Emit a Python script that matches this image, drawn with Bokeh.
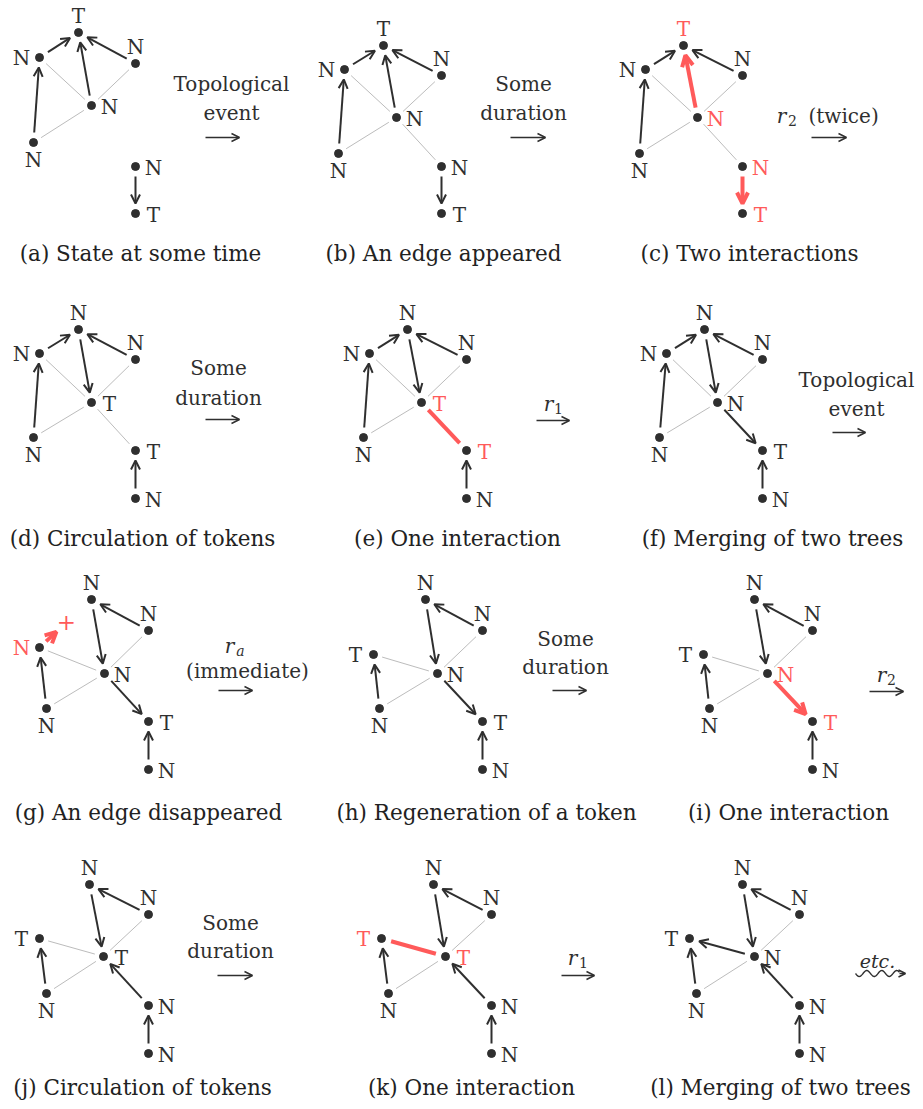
import math
from bokeh.plotting import figure
from bokeh.models import Range1d, Arrow, OpenHead, ColumnDataSource
from bokeh.embed import file_html
from bokeh.resources import INLINE
from bokeh.core.properties import value

# ------------------------------------------------------------------ data
# nodes: (key, x, y, label, label side)
NODES_A = [("T", 78, 32, "T", "above"), ("L", 39, 57, "N", "left"), ("R", 135, 63, "N", "above"),
           ("C", 91, 105, "N", "right"), ("B", 33, 142, "N", "below"), ("P", 135, 166, "N", "right"),
           ("Q", 135, 213, "T", "right")]
GRAY_A = [("L", "C"), ("R", "C"), ("B", "C")]
ARROWS_A = [("L", "T"), ("C", "T"), ("R", "T"), ("B", "L"), ("P", "Q")]

NODES_B = [("T", 383, 45, "T", "above"), ("L", 344, 69, "N", "left"), ("R", 441, 75, "N", "above"),
           ("C", 396, 117, "N", "right"), ("B", 338, 153, "N", "below"), ("P", 441, 166, "N", "right"),
           ("Q", 441, 213, "T", "right")]
GRAY_B = [("L", "C"), ("R", "C"), ("B", "C"), ("C", "P")]
ARROWS_B = [("L", "T"), ("C", "T"), ("R", "T"), ("B", "L"), ("P", "Q")]

NODES_C = [("T", 683, 45, "T", "above"), ("L", 645, 69, "N", "left"), ("R", 742, 75, "N", "above"),
           ("C", 697, 117, "N", "right"), ("B", 639, 153, "N", "below"), ("P", 742, 166, "N", "right"),
           ("Q", 742, 213, "T", "right")]
GRAY_C = [("L", "C"), ("R", "C"), ("B", "C"), ("C", "P")]
ARROWS_C = [("L", "T"), ("R", "T"), ("B", "L")]
RED_ARROWS_C = [("C", "T"), ("P", "Q")]
RED_LABELS_C = ["T", "C", "P", "Q"]

NODES_D = [("U", 78, 329, "N", "above"), ("L", 39, 353, "N", "left"), ("R", 135, 359, "N", "above"),
           ("C", 91, 402, "T", "right"), ("B", 33, 437, "N", "below"), ("P", 135, 450, "T", "right"),
           ("Q", 135, 498, "N", "right")]
GRAY_D = [("L", "C"), ("R", "C"), ("B", "C"), ("C", "P")]
ARROWS_D = [("L", "U"), ("R", "U"), ("U", "C"), ("B", "L"), ("Q", "P")]

NODES_E = [("U", 407, 329, "N", "above"), ("L", 369, 353, "N", "left"), ("R", 466, 359, "N", "above"),
           ("C", 421, 402, "T", "right"), ("B", 363, 437, "N", "below"), ("P", 466, 450, "T", "right"),
           ("Q", 466, 498, "N", "right")]
GRAY_E = [("L", "C"), ("R", "C"), ("B", "C")]
ARROWS_E = [("L", "U"), ("R", "U"), ("U", "C"), ("B", "L"), ("Q", "P")]
RED_LINES_E = [("C", "P")]
RED_LABELS_E = ["C", "P"]

NODES_F = [("U", 704, 329, "N", "above"), ("L", 666, 353, "N", "left"), ("R", 762, 359, "N", "above"),
           ("C", 717, 402, "N", "right"), ("B", 659, 437, "N", "below"), ("P", 762, 450, "T", "right"),
           ("Q", 762, 498, "N", "right")]
GRAY_F = [("L", "C"), ("R", "C"), ("B", "C")]
ARROWS_F = [("L", "U"), ("R", "U"), ("U", "C"), ("B", "L"), ("C", "P"), ("Q", "P")]

NODES_G = [("U", 91, 599, "N", "above"), ("R", 148, 630, "N", "above"), ("L", 39, 647, "N", "left"),
           ("C", 104, 673, "N", "right"), ("B", 46, 708, "N", "below"), ("P", 148, 721, "T", "right"),
           ("Q", 148, 769, "N", "right")]
GRAY_G = [("L", "C"), ("R", "C"), ("B", "C")]
ARROWS_G = [("R", "U"), ("U", "C"), ("C", "P"), ("B", "L"), ("Q", "P")]
RED_STUB_G = [("L", "U")]
RED_LABELS_G = ["L"]

NODES_H = [("U", 425, 599, "N", "above"), ("R", 482, 630, "N", "above"), ("L", 373, 654, "T", "left"),
           ("C", 437, 673, "N", "right"), ("B", 379, 708, "N", "below"), ("P", 482, 721, "T", "right"),
           ("Q", 482, 769, "N", "right")]
GRAY_H = [("L", "C"), ("R", "C"), ("B", "C")]
ARROWS_H = [("R", "U"), ("U", "C"), ("C", "P"), ("B", "L"), ("Q", "P")]

NODES_I = [("U", 754, 599, "N", "above"), ("R", 812, 630, "N", "above"), ("L", 703, 654, "T", "left"),
           ("C", 767, 673, "N", "right"), ("B", 709, 708, "N", "below"), ("P", 812, 721, "T", "right"),
           ("Q", 812, 769, "N", "right")]
GRAY_I = [("L", "C"), ("R", "C"), ("B", "C")]
ARROWS_I = [("R", "U"), ("U", "C"), ("B", "L"), ("Q", "P")]
RED_ARROWS_I = [("C", "P")]
RED_LABELS_I = ["C", "P"]

NODES_J = [("U", 89, 884, "N", "above"), ("R", 148, 914, "N", "above"), ("L", 39, 938, "T", "left"),
           ("C", 103, 956, "T", "right"), ("B", 46, 993, "N", "below"), ("P", 148, 1005, "N", "right"),
           ("Q", 148, 1053, "N", "right")]
GRAY_J = [("L", "C"), ("R", "C"), ("B", "C")]
ARROWS_J = [("R", "U"), ("U", "C"), ("P", "C"), ("Q", "P"), ("B", "L")]

NODES_K = [("U", 433, 884, "N", "above"), ("R", 491, 914, "N", "above"), ("L", 381, 938, "T", "left"),
           ("C", 445, 956, "T", "right"), ("B", 388, 993, "N", "below"), ("P", 491, 1005, "N", "right"),
           ("Q", 491, 1053, "N", "right")]
GRAY_K = [("R", "C"), ("B", "C")]
ARROWS_K = [("R", "U"), ("U", "C"), ("P", "C"), ("Q", "P"), ("B", "L")]
RED_LINES_K = [("L", "C")]
RED_LABELS_K = ["L", "C"]

NODES_L = [("U", 742, 884, "N", "above"), ("R", 799, 914, "N", "above"), ("L", 689, 938, "T", "left"),
           ("C", 754, 956, "N", "right"), ("B", 696, 993, "N", "below"), ("P", 799, 1005, "N", "right"),
           ("Q", 799, 1053, "N", "right")]
GRAY_L = [("R", "C"), ("B", "C")]
ARROWS_L = [("R", "U"), ("U", "C"), ("C", "L"), ("P", "C"), ("Q", "P"), ("B", "L")]

CAPTIONS = ["(a) State at some time", "(b) An edge appeared", "(c) Two interactions",
            "(d) Circulation of tokens", "(e) One interaction", "(f) Merging of two trees",
            "(g) An edge disappeared", "(h) Regeneration of a token", "(i) One interaction",
            "(j) Circulation of tokens", "(k) One interaction", "(l) Merging of two trees"]
CAPTION_X = [140, 443, 749, 142, 457, 772, 148, 486, 788, 142, 471, 780]
CAPTION_Y = [253, 253, 253, 538, 538, 538, 812, 812, 812, 1087, 1087, 1087]

# plain transition labels: (text, x, y)
TRANS_TEXT = [("Topological", 231, 83), ("event", 231, 112),
              ("Some", 523, 83), ("duration", 523, 112),
              ("Some", 218, 367), ("duration", 218, 397),
              ("Topological", 856, 379), ("event", 856, 408),
              ("(immediate)", 247, 670),
              ("Some", 565, 638), ("duration", 565, 666),
              ("Some", 230, 922), ("duration", 230, 950)]
# math transition labels: r with subscript, (x, y, sub, sub_x, sub_y)
TRANS_MATH = [(781, 115, "2", 792, 120), (548, 403, "1", 558, 408), (229, 645, "a", 240, 650),
              (881, 674, "2", 891, 679), (572, 957, "1", 583, 962)]
TWICE = ("(twice)", 808, 115)
# transition arrows: (x0, x1, y)
TRANS_ARROWS = [(205, 239, 137), (510, 545, 137), (811, 846, 137),
                (205, 239, 419), (536, 569, 420), (832, 865, 432),
                (218, 252, 690), (552, 586, 690), (869, 903, 691),
                (217, 252, 975), (561, 594, 975)]
ETC = ("etc.", 877, 960)
SQUIGGLE = (855, 905, 973)

PANELS = [
    (NODES_A, GRAY_A, ARROWS_A, [], [], [], []),
    (NODES_B, GRAY_B, ARROWS_B, [], [], [], []),
    (NODES_C, GRAY_C, ARROWS_C, RED_ARROWS_C, [], [], RED_LABELS_C),
    (NODES_D, GRAY_D, ARROWS_D, [], [], [], []),
    (NODES_E, GRAY_E, ARROWS_E, [], RED_LINES_E, [], RED_LABELS_E),
    (NODES_F, GRAY_F, ARROWS_F, [], [], [], []),
    (NODES_G, GRAY_G, ARROWS_G, [], [], RED_STUB_G, RED_LABELS_G),
    (NODES_H, GRAY_H, ARROWS_H, [], [], [], []),
    (NODES_I, GRAY_I, ARROWS_I, RED_ARROWS_I, [], [], RED_LABELS_I),
    (NODES_J, GRAY_J, ARROWS_J, [], [], [], []),
    (NODES_K, GRAY_K, ARROWS_K, [], RED_LINES_K, [], RED_LABELS_K),
    (NODES_L, GRAY_L, ARROWS_L, [], [], [], []),
]

# ------------------------------------------------------------------ style
FONT = "DejaVu Serif"
INK = "#2f2f2f"
RED = "#ff5a5a"
GRAY = "#bcbcbc"
OFF = {"above": (0, -17), "below": (0, 17), "left": (-18, 0), "right": (18, 1)}
W, H = 921, 1107


def trim(p0, p1, s0, s1):
    dx, dy = p1[0] - p0[0], p1[1] - p0[1]
    d = math.hypot(dx, dy)
    ux, uy = dx / d, dy / d
    return p0[0] + ux * s0, p0[1] + uy * s0, p1[0] - ux * s1, p1[1] - uy * s1


p = figure(width=W, height=H, x_range=Range1d(0, W), y_range=Range1d(H, 0),
           output_backend="svg", toolbar_location=None, min_border=0,
           x_axis_location=None, y_axis_location=None)
p.grid.visible = False
p.outline_line_color = None
p.background_fill_color = "white"
p.border_fill_color = "white"

gray = dict(x0=[], y0=[], x1=[], y1=[])
redl = dict(x0=[], y0=[], x1=[], y1=[])
blk = dict(x_start=[], y_start=[], x_end=[], y_end=[])
reda = dict(x_start=[], y_start=[], x_end=[], y_end=[])
dots = dict(x=[], y=[])
labs = dict(x=[], y=[], text=[], color=[])

for nodes, g, arr, rarr, rlin, rstub, rlab in PANELS:
    pos = {k: (x, y) for k, x, y, _, _ in nodes}
    for a, b in g:
        x0, y0, x1, y1 = trim(pos[a], pos[b], 9, 9)
        for k, v in zip(("x0", "y0", "x1", "y1"), (x0, y0, x1, y1)):
            gray[k].append(v)
    for a, b in rlin:
        x0, y0, x1, y1 = trim(pos[a], pos[b], 10, 10)
        for k, v in zip(("x0", "y0", "x1", "y1"), (x0, y0, x1, y1)):
            redl[k].append(v)
    for a, b in arr:
        x0, y0, x1, y1 = trim(pos[a], pos[b], 10, 10)
        for k, v in zip(("x_start", "y_start", "x_end", "y_end"), (x0, y0, x1, y1)):
            blk[k].append(v)
    for a, b in rarr:
        x0, y0, x1, y1 = trim(pos[a], pos[b], 10, 10)
        for k, v in zip(("x_start", "y_start", "x_end", "y_end"), (x0, y0, x1, y1)):
            reda[k].append(v)
    for a, b in rstub:
        d = math.hypot(pos[b][0] - pos[a][0], pos[b][1] - pos[a][1])
        x0, y0, x1, y1 = trim(pos[a], pos[b], 9, d - 23)
        for k, v in zip(("x_start", "y_start", "x_end", "y_end"), (x0, y0, x1, y1)):
            reda[k].append(v)
        p.text(x=[x1 + 10], y=[y1 - 10], text=["+"], text_font=value(FONT), text_font_size="23px",
               text_align="center", text_baseline="middle", text_color=RED)
    for k, x, y, lab, side in nodes:
        dots["x"].append(x)
        dots["y"].append(y)
        ox, oy = OFF[side]
        labs["x"].append(x + ox)
        labs["y"].append(y + oy)
        labs["text"].append(lab)
        labs["color"].append(RED if k in rlab else INK)

p.segment(x0="x0", y0="y0", x1="x1", y1="y1", source=ColumnDataSource(gray), line_color=GRAY, line_width=1)
p.segment(x0="x0", y0="y0", x1="x1", y1="y1", source=ColumnDataSource(redl), line_color=RED, line_width=4)
p.add_layout(Arrow(end=OpenHead(size=9, line_color=INK, line_width=2), source=ColumnDataSource(blk),
                   x_start="x_start", y_start="y_start", x_end="x_end", y_end="y_end",
                   line_color=INK, line_width=2))
p.add_layout(Arrow(end=OpenHead(size=11, line_color=RED, line_width=4), source=ColumnDataSource(reda),
                   x_start="x_start", y_start="y_start", x_end="x_end", y_end="y_end",
                   line_color=RED, line_width=4))
p.scatter(x="x", y="y", source=ColumnDataSource(dots), size=8, fill_color=INK, line_color=INK)
p.text(x="x", y="y", text="text", text_color="color", source=ColumnDataSource(labs),
       text_font=value(FONT), text_font_size="20px", text_align="center", text_baseline="middle")

# transitions
p.text(x=[t[1] for t in TRANS_TEXT], y=[t[2] for t in TRANS_TEXT], text=[t[0] for t in TRANS_TEXT],
       text_font=value(FONT), text_font_size="20px", text_align="center", text_baseline="middle",
       text_color=INK)
p.text(x=[m[0] for m in TRANS_MATH], y=[m[1] for m in TRANS_MATH], text=["r"] * len(TRANS_MATH),
       text_font=value(FONT), text_font_style="italic", text_font_size="20px", text_align="center",
       text_baseline="middle", text_color=INK)
p.text(x=[m[3] for m in TRANS_MATH], y=[m[4] for m in TRANS_MATH], text=[m[2] for m in TRANS_MATH],
       text_font=value(FONT), text_font_style=["normal", "normal", "italic", "normal", "normal"],
       text_font_size="14px", text_align="center", text_baseline="middle", text_color=INK)
p.text(x=[TWICE[1]], y=[TWICE[2]], text=[TWICE[0]], text_font=value(FONT), text_font_size="20px",
       text_align="left", text_baseline="middle", text_color=INK)
p.text(x=[ETC[1]], y=[ETC[2]], text=[ETC[0]], text_font=value(FONT), text_font_style="italic",
       text_font_size="19px", text_align="center", text_baseline="middle", text_color=INK)
p.add_layout(Arrow(end=OpenHead(size=8, line_color=INK, line_width=1.5),
                   source=ColumnDataSource(dict(x_start=[a[0] for a in TRANS_ARROWS],
                                                x_end=[a[1] for a in TRANS_ARROWS],
                                                y=[a[2] for a in TRANS_ARROWS])),
                   x_start="x_start", y_start="y", x_end="x_end", y_end="y",
                   line_color=INK, line_width=1.5))
# squiggly arrow (decoration)
sx0, sx1, sy = SQUIGGLE
n = 60
wx = [sx0 + (sx1 - 6 - sx0) * i / n for i in range(n + 1)]
wy = [sy + 3 * math.sin(2 * math.pi * (x - sx0) / 15.0) for x in wx]
p.line(wx, wy, line_color=INK, line_width=1.4)
p.add_layout(Arrow(end=OpenHead(size=7, line_color=INK, line_width=1.5), x_start=sx1 - 6, y_start=sy,
                   x_end=sx1, y_end=sy, line_color=INK, line_width=1.5))

p.text(x=CAPTION_X, y=CAPTION_Y, text=CAPTIONS, text_font=value(FONT), text_font_size="21.5px",
       text_align="center", text_baseline="middle", text_color="#222222")

open("out.html", "w").write(file_html(p, INLINE))
